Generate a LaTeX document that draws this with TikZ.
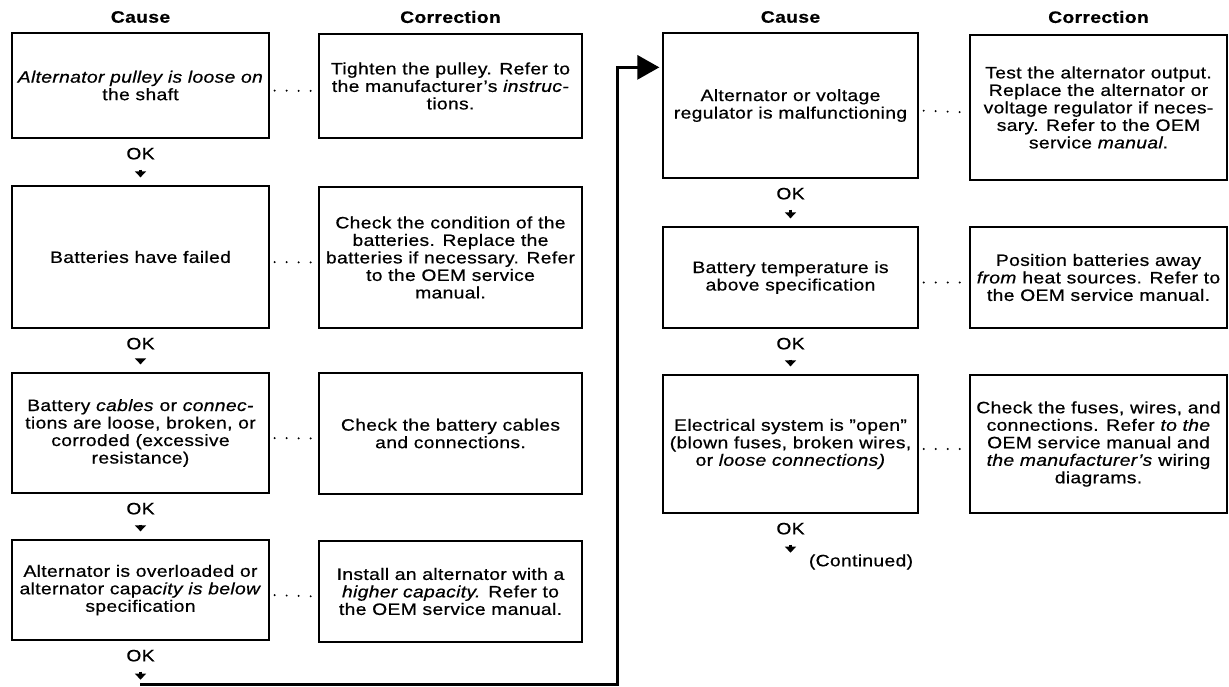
\documentclass[tikz,border=0pt]{standalone}
\usepackage{fontspec}
\setmainfont{Liberation Sans}[FakeStretch=1.17,LetterSpace=2,FakeBold=0.6]
\usetikzlibrary{arrows.meta,calc}

\begin{document}
\begin{tikzpicture}[x=1pt,y=-1pt,
  txt/.style={font=\fontsize{16.5}{17.5}\selectfont},
  stepbox/.style={draw, line width=1.3pt, align=center, inner sep=0pt, txt},
  causebox/.style={stepbox, minimum width=257pt},
  fixbox/.style={stepbox, minimum width=263pt},
  rcausebox/.style={stepbox, minimum width=255pt},
  rfixbox/.style={stepbox, minimum width=257pt},
  header/.style={font=\fontsize{16.5}{17.5}\selectfont\bfseries, inner sep=0pt},
  oklabel/.style={txt, inner sep=0pt},
  okarrow/.style={line width=2.2pt, -{Triangle[length=6pt,width=11pt]},
                  shorten <=10pt, shorten >=8pt},
  dotlink/.style={line width=2.2pt, line cap=round, dash pattern=on 0pt off 12pt,
                  shorten <=5pt, shorten >=6pt},
  loopline/.style={line width=3pt, -{Triangle[length=22pt,width=24pt]}, shorten >=3pt},
]
\useasboundingbox (0,0) rectangle (1229,686);

% column headings
\node[header] (h1) at (140.5,17) {Cause};
\node[header] (h2) at (450.5,17) {Correction};
\node[header] (h3) at (790.5,17) {Cause};
\node[header] (h4) at (1098.5,17) {Correction};

% left half: causes
\node[causebox, minimum height=105pt] (c1) at (140.5,85.5)
  {\textit{Alternator pulley is loose on}\\the shaft};
\node[causebox, minimum height=142pt] (c2) at (140.5,257)
  {Batteries have failed};
\node[causebox, minimum height=120pt] (c3) at (140.5,433)
  {Battery \textit{cables} or \textit{connec-}\\tions are loose, broken, or\\corroded (excessive\\resistance)};
\node[causebox, minimum height=100pt] (c4) at (140.5,590)
  {Alternator is overloaded or\\alternator capa\textit{city is below}\\specification};

% left half: corrections
\node[fixbox, minimum height=104pt] (k1) at (450.5,86)
  {Tighten the pulley. Refer to\\the manufacturer’s \textit{instruc-}\\tions.};
\node[fixbox, minimum height=141pt] (k2) at (450.5,257.5)
  {Check the condition of the\\batteries. Replace the\\batteries if necessary. Refer\\to the OEM service\\manual.};
\node[fixbox, minimum height=121pt] (k3) at (450.5,433.5)
  {Check the battery cables\\and connections.};
\node[fixbox, minimum height=101pt] (k4) at (450.5,591.5)
  {Install an alternator with a\\\textit{higher capacity.} Refer to\\the OEM service manual.};

% right half: causes
\node[rcausebox, minimum height=145pt] (rc1) at (790.5,105.5)
  {Alternator or voltage\\regulator is malfunctioning};
\node[rcausebox, minimum height=101pt] (rc2) at (790.5,277.5)
  {Battery temperature is\\above specification};
\node[rcausebox, minimum height=138pt] (rc3) at (790.5,444)
  {Electrical system is ''open''\\(blown fuses, broken wires,\\or \textit{loose connections)}};

% right half: corrections
\node[rfixbox, minimum height=145pt] (rk1) at (1098.5,107.5)
  {Test the alternator output.\\Replace the alternator or\\voltage regulator if neces-\\sary. Refer to the OEM\\service \textit{manual}.};
\node[rfixbox, minimum height=101pt] (rk2) at (1098.5,277.5)
  {Position batteries away\\\textit{from} heat sources. Refer to\\the OEM service manual.};
\node[rfixbox, minimum height=138pt] (rk3) at (1098.5,444)
  {Check the fuses, wires, and\\connections. Refer \textit{to the}\\OEM service manual and\\\textit{the manufacturer’s} wiring\\diagrams.};

% cause -> correction leaders
\foreach \a/\b in {c1/k1,c2/k2,c3/k3,c4/k4,rc1/rk1,rc2/rk2,rc3/rk3}
  \draw[dotlink] ($(\a.east)+(0,5)$) -- ($(\b.west)+(0,5)$);

% OK labels under each cause
\foreach \a/\n in {c1/1,c2/2,c3/3,c4/4,rc1/5,rc2/6,rc3/7}
  \node[oklabel] (ok\n) at ($(\a.south)+(0,15)$) {OK};

\coordinate (c4end) at ($(c4.south)+(0,47)$);
\coordinate (rc3end) at ($(rc3.south)+(0,47)$);

\draw[okarrow] (ok1.south) -- (c2.north);
\draw[okarrow] (ok2.south) -- (c3.north);
\draw[okarrow] (ok3.south) -- (c4.north);
\draw[okarrow] (ok4.south) -- (c4end);
\draw[okarrow] (ok5.south) -- (rc2.north);
\draw[okarrow] (ok6.south) -- (rc3.north);
\draw[okarrow] (ok7.south) -- (rc3end);

% carry-over to the second column
\coordinate (loopstart) at (140,684);
\coordinate (loopturn) at (617,684);
\draw[loopline] (loopstart) -- (loopturn) |- ($(rc1.north west)+(0,35)$);

\node[txt] (cont) at (861,562) {(Continued)};
\end{tikzpicture}
\end{document}
